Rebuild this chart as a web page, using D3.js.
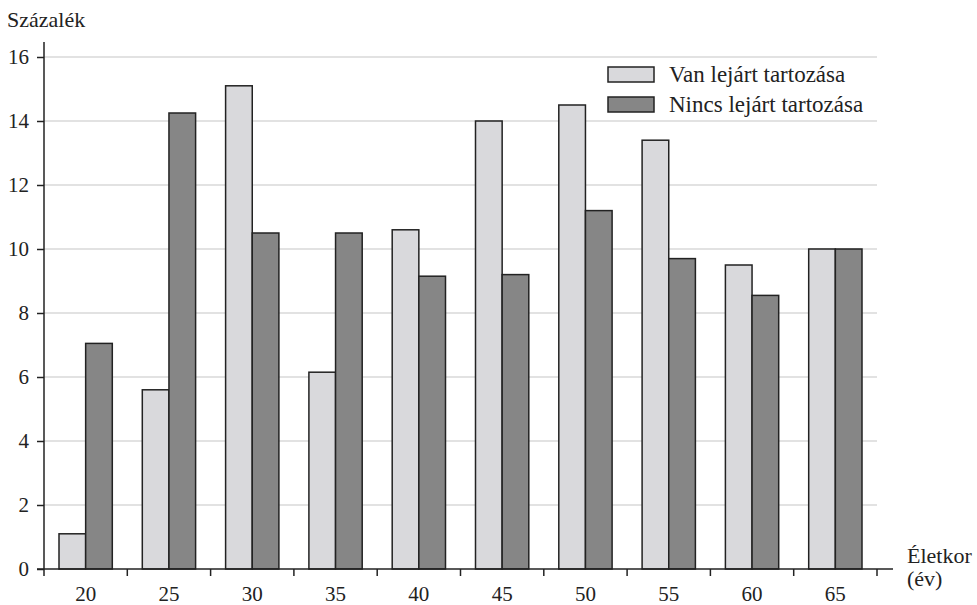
<!DOCTYPE html>
<html>
<head>
<meta charset="utf-8">
<script src="https://cdn.jsdelivr.net/npm/d3@7"></script>
</head>
<body style="margin:0;background:#fff;overflow:hidden">
<svg id="chart" width="977" height="605"></svg>
<script>
// data
var ages = ["20", "25", "30", "35", "40", "45", "50", "55", "60", "65"];
var vanLejart = [1.1, 5.6, 15.1, 6.15, 10.6, 14.0, 14.5, 13.4, 9.5, 10.0];
var nincsLejart = [7.05, 14.25, 10.5, 10.5, 9.15, 9.2, 11.2, 9.7, 8.55, 10.0];
var seriesNames = ["Van lejárt tartozása", "Nincs lejárt tartozása"];
var yTicks = [0, 2, 4, 6, 8, 10, 12, 14, 16];

var colors = ["#d9d9dc", "#868686"];
var font = "'Liberation Serif', 'DejaVu Serif', serif";

var svg = d3.select("#chart")
  .attr("font-family", font)
  .style("font-family", font);
var m = {left: 44, right: 877, top: 57, bottom: 569};

var x0 = d3.scaleBand().domain(ages).range([m.left, m.right]).padding(0);
var x1 = d3.scaleBand().domain([0, 1]).range([15, x0.bandwidth() - 15]).padding(0);
var y = d3.scaleLinear().domain([0, 16]).range([m.bottom, m.top]);

function label(sel, size) {
  return sel.attr("font-family", font).attr("font-size", size)
    .style("font-family", font).style("font-size", size + "px").attr("fill", "#222");
}

// grid
svg.append("g")
  .selectAll("line")
  .data(yTicks.filter(function(d) { return d > 0; }))
  .enter().append("line")
  .attr("x1", m.left).attr("x2", m.right)
  .attr("y1", function(d) { return y(d); })
  .attr("y2", function(d) { return y(d); })
  .attr("stroke", "#e2e2e2")
  .attr("stroke-width", 2);

// bars
var groups = svg.append("g")
  .selectAll("g")
  .data(ages)
  .enter().append("g")
  .attr("transform", function(d) { return "translate(" + x0(d) + ",0)"; });

groups.selectAll("rect")
  .data(function(d, i) { return [vanLejart[i], nincsLejart[i]]; })
  .enter().append("rect")
  .attr("x", function(d, j) { return x1(j); })
  .attr("width", x1.bandwidth())
  .attr("y", function(d) { return y(d); })
  .attr("height", function(d) { return y(0) - y(d); })
  .attr("fill", function(d, j) { return colors[j]; })
  .attr("stroke", "#222")
  .attr("stroke-width", 1.5);

// y axis
var yAxis = svg.append("g")
  .attr("transform", "translate(" + m.left + ",0)")
  .call(d3.axisLeft(y).tickValues(yTicks).tickSize(7).tickPadding(8).tickFormat(d3.format("d")));
yAxis.select(".domain").remove();
yAxis.append("line").attr("x1", 0).attr("x2", 0).attr("y1", 42).attr("y2", m.bottom)
  .attr("stroke", "#222").attr("stroke-width", 1.5);
yAxis.selectAll(".tick line").attr("stroke", "#222").attr("stroke-width", 1.5);
label(yAxis.selectAll("text"), 21);

// x axis
var xAxis = svg.append("g")
  .attr("transform", "translate(0," + m.bottom + ")");
xAxis.append("line").attr("x1", m.left - 7).attr("x2", 893)
  .attr("stroke", "#222").attr("stroke-width", 1.5);
var bounds = ages.map(function(d) { return x0(d); }).concat([m.right]);
xAxis.selectAll(".xtick")
  .data(bounds)
  .enter().append("line")
  .attr("x1", function(d) { return d; }).attr("x2", function(d) { return d; })
  .attr("y1", 0).attr("y2", 7)
  .attr("stroke", "#222").attr("stroke-width", 1.5);
label(xAxis.selectAll(".xlab")
  .data(ages)
  .enter().append("text")
  .attr("x", function(d) { return x0(d) + x0.bandwidth() / 2; })
  .attr("y", 32)
  .attr("text-anchor", "middle")
  .text(function(d) { return d; }), 21);

// axis titles
label(svg.append("text").attr("x", 7).attr("y", 27).text("Százalék"), 22);
label(svg.append("text").attr("x", 907).attr("y", 563).text("Életkor"), 22);
label(svg.append("text").attr("x", 907).attr("y", 586).text("(év)"), 22);

// legend
var legend = svg.append("g")
  .selectAll("g")
  .data(seriesNames)
  .enter().append("g")
  .attr("transform", function(d, i) { return "translate(608," + (67 + i * 30) + ")"; });
legend.append("rect")
  .attr("width", 46).attr("height", 15)
  .attr("fill", function(d, i) { return colors[i]; })
  .attr("stroke", "#222").attr("stroke-width", 1.5);
label(legend.append("text")
  .attr("x", 61).attr("y", 15)
  .text(function(d) { return d; }), 23);
</script>
</body>
</html>
